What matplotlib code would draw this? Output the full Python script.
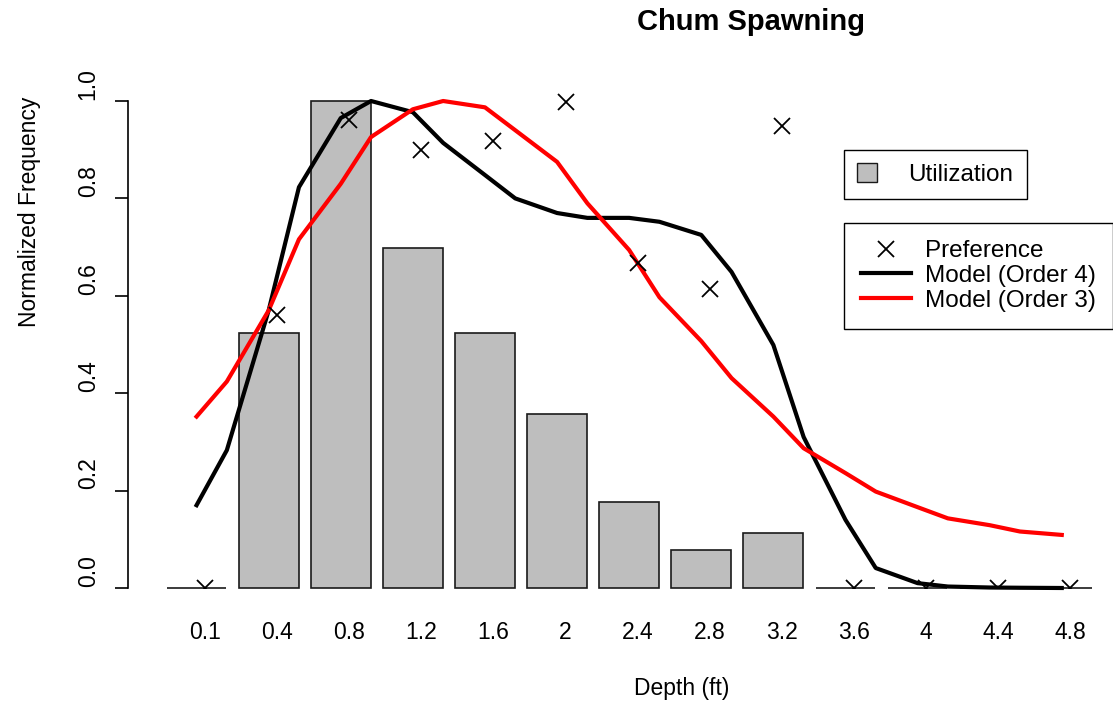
import numpy as np
import matplotlib.pyplot as plt
from matplotlib.lines import Line2D
from matplotlib.patches import Patch
from matplotlib.transforms import ScaledTranslation

plt.rcParams['font.family'] = ['Liberation Sans', 'DejaVu Sans']

# depth bins (ft) and observed data
depth_labels = ["0.1", "0.4", "0.8", "1.2", "1.6", "2", "2.4", "2.8",
                "3.2", "3.6", "4", "4.4", "4.8"]
utilization = [0, 0.523, 1.0, 0.699, 0.523, 0.357, 0.177, 0.079,
               0.112, 0, 0, 0, 0]
preference = [0, 0.56, 0.962, 0.90, 0.918, 0.997, 0.668, 0.613,
              0.949, 0, 0, 0, 0]

# model curves, evaluated on a finer grid (in bin units)
model_pos = [0, 0.42, 1, 1.42, 2, 2.42, 3, 3.42, 4, 4.42, 5, 5.42, 6,
             6.42, 7, 7.42, 8, 8.42, 9, 9.42, 10, 10.42, 11, 11.42, 12]
model_order4 = [0.170, 0.283, 0.57, 0.823, 0.965, 1.0, 0.977, 0.914,
                0.848, 0.80, 0.770, 0.760, 0.760, 0.752, 0.725, 0.649,
                0.499, 0.31, 0.14, 0.041, 0.010, 0.003, 0.001, 0.0005, 0.0]
model_order3 = [0.352, 0.424, 0.57, 0.716, 0.83, 0.926, 0.983, 1.0,
                0.987, 0.94, 0.875, 0.79, 0.694, 0.597, 0.507, 0.431,
                0.352, 0.287, 0.236, 0.198, 0.166, 0.143, 0.129, 0.116,
                0.109]

FS = 16.5
LFS = 17.5
W, H = 1113, 705

fig = plt.figure(figsize=(W / 100, H / 100), dpi=100)
ax = fig.add_axes([128 / W, (H - 588) / H, (W - 128) / W, (588 - 60) / H])

idx = np.arange(len(depth_labels))
shift = -0.117
ax.bar(idx + shift, utilization, width=0.83, color='#bebebe',
       edgecolor='#1a1a1a', linewidth=1.2, clip_on=False)
ax.plot(np.array(model_pos) + shift, model_order4, color='black', lw=3,
        clip_on=False)
ax.plot(np.array(model_pos) + shift, model_order3, color='red', lw=3,
        clip_on=False)
ax.plot(idx, preference, 'x', color='black', ms=12, mew=1.3)

ax.set_xlim((128 - 205) / 72.1, (W - 205) / 72.1)
ax.set_ylim(0, 528 / 487)

for s in ['top', 'right', 'bottom']:
    ax.spines[s].set_visible(False)
ax.spines['left'].set_bounds(0, 1)
ax.spines['left'].set_linewidth(1.2)

ax.set_xticks(idx)
ax.set_xticklabels(depth_labels, fontsize=FS)
ax.tick_params(axis='x', length=0, pad=24)

ax.set_yticks([0, 0.2, 0.4, 0.6, 0.8, 1.0])
ax.set_yticklabels(["0.0", "0.2", "0.4", "0.6", "0.8", "1.0"], fontsize=FS,
                   rotation=90, va='center')
ax.tick_params(axis='y', length=9.4, width=1.2, pad=11)
for lab in ax.get_yticklabels():
    lab.set_transform(lab.get_transform() +
                      ScaledTranslation(0, 0.17, fig.dpi_scale_trans))

fig.text(751 / W, 1 - 22 / H, "Chum Spawning", fontsize=21,
         fontweight='bold', ha='center', va='center')
fig.text(682 / W, 1 - 688 / H, "Depth (ft)", fontsize=FS,
         ha='center', va='center')
fig.text(30 / W, 1 - 212 / H, "Normalized Frequency", fontsize=FS,
         rotation=90, ha='center', va='center')

# legends
leg1 = ax.legend(handles=[Patch(facecolor='#bebebe', edgecolor='#1a1a1a',
                                label="Utilization")],
                 loc='upper left', bbox_to_anchor=(844 / W, 1 - 150 / H),
                 bbox_transform=fig.transFigure, borderaxespad=0,
                 fontsize=LFS, fancybox=False, edgecolor='black',
                 framealpha=1, handlelength=0.8, handleheight=0.8,
                 handletextpad=1.3, borderpad=0.55)
leg1.get_frame().set_linewidth(1.0)
ax.add_artist(leg1)

handles = [Line2D([], [], marker='x', ls='none', color='black', ms=12,
                  mew=1.3, label="Preference"),
           Line2D([], [], color='black', lw=3, label="Model (Order 4)"),
           Line2D([], [], color='red', lw=3, label="Model (Order 3)")]
leg2 = ax.legend(handles=handles, loc='upper left',
                 bbox_to_anchor=(844 / W, 1 - 223 / H),
                 bbox_transform=fig.transFigure, borderaxespad=0,
                 fontsize=LFS, fancybox=False, edgecolor='black',
                 framealpha=1, handlelength=2.05, handletextpad=0.6,
                 labelspacing=0.12, borderpad=0.7)
leg2.get_frame().set_linewidth(1.0)

fig.savefig("out.png", dpi=100)
